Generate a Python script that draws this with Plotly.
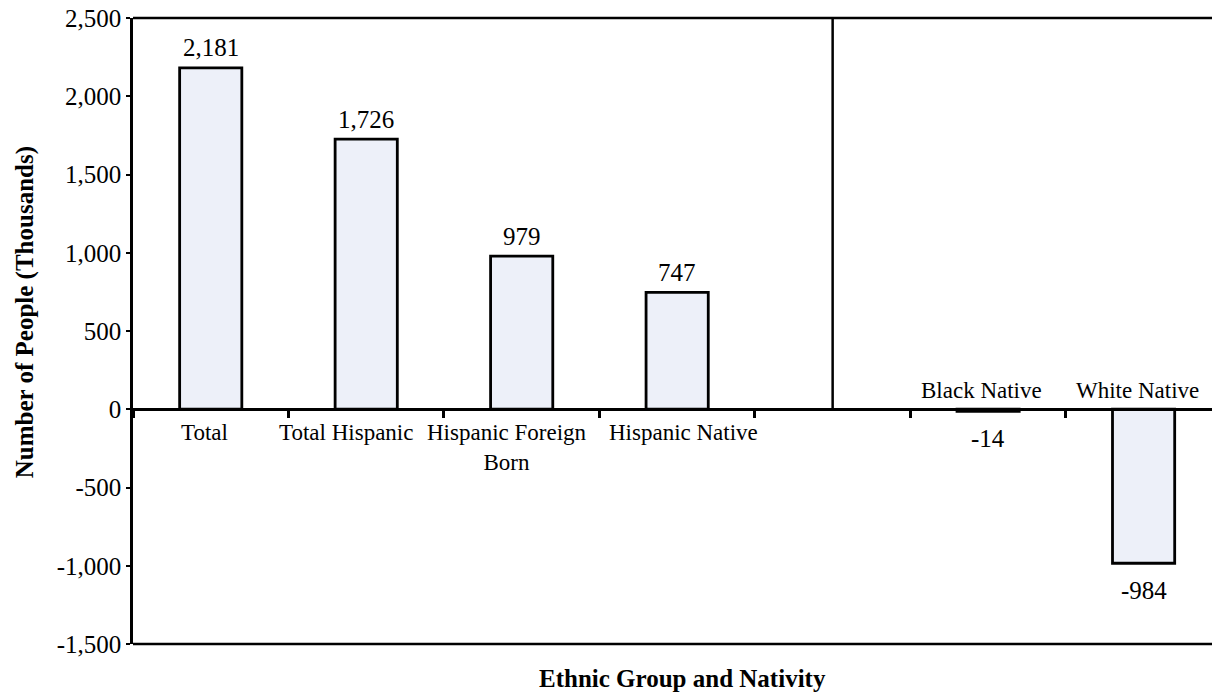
import plotly.graph_objects as go

categories = ["Total", "Total Hispanic", "Hispanic Foreign Born", "Hispanic Native", " ", "Black Native", "White Native"]
label_text = ["Total", "Total Hispanic", "Hispanic Foreign<br>Born", "Hispanic Native", "", "Black Native", "White Native"]
values = [2181, 1726, 979, 747, None, -14, -984]
y_ticks = [-1500, -1000, -500, 0, 500, 1000, 1500, 2000, 2500]

# horizontal nudges of the category labels (layout only)
label_nudge = [-6, -20, -15, 6, 0, -7, -6]

FONT = "Liberation Serif, Times New Roman, DejaVu Serif, serif"

fig = go.Figure()
fig.add_trace(go.Bar(
    x=categories, y=values,
    marker=dict(color="#EDF0F9", line=dict(color="black", width=2.8)),
    cliponaxis=False, width=0.4, showlegend=False, hoverinfo="x+y",
))

# value labels
for cat, v in zip(categories, values):
    if v is None:
        continue
    fig.add_annotation(
        x=cat, y=v, xref="x", yref="y", text=f"{v:,}", showarrow=False,
        yanchor="middle", yshift=20 if v >= 0 else -27,
        font=dict(family=FONT, size=25, color="black"),
    )

# category labels: below zero for positive bars, above zero for negative bars
for cat, lab, v, dx in zip(categories, label_text, values, label_nudge):
    if not lab:
        continue
    neg = v is not None and v < 0
    fig.add_annotation(
        x=cat, y=0, xref="x", yref="y", text=lab, showarrow=False,
        yanchor="bottom" if neg else "top", yshift=4 if neg else -9, xshift=dx,
        font=dict(family=FONT, size=23, color="black"),
    )

# separator line at the blank category, frame lines top/bottom
fig.add_shape(type="line", xref="x", yref="paper", x0=categories[4], x1=categories[4],
              y0=1500 / 4000, y1=1, line=dict(color="black", width=2.5))
fig.add_shape(type="line", xref="paper", yref="paper", x0=0, x1=1, y0=1, y1=1,
              line=dict(color="black", width=2.5))
fig.add_shape(type="line", xref="paper", yref="paper", x0=0, x1=1, y0=0, y1=0,
              line=dict(color="black", width=2.5))

fig.add_annotation(
    x=0.5, y=0, xref="paper", yref="paper", yanchor="top", yshift=-19, xshift=10,
    text="<b>Ethnic Group and Nativity</b>", showarrow=False,
    font=dict(family=FONT, size=25, color="black"),
)
fig.add_annotation(
    x=0, y=0.53, xref="paper", yref="paper", xanchor="center", yanchor="middle",
    xshift=-108, textangle=-90,
    text="<b>Number of People (Thousands)</b>", showarrow=False,
    font=dict(family=FONT, size=25, color="black"),
)

fig.update_layout(
    width=1212, height=692,
    margin=dict(l=133, r=0, t=18, b=48),
    paper_bgcolor="white", plot_bgcolor="white",
    font=dict(family=FONT, color="black"),
    xaxis=dict(
        type="category", range=[-0.5, 6.44],
        showline=True, linecolor="black", linewidth=2.5,
        anchor="free", position=1500 / 4000,
        ticks="outside", tickson="boundaries", ticklen=7, tickwidth=2.5, tickcolor="black",
        showticklabels=False, showgrid=False, zeroline=False,
    ),
    yaxis=dict(
        range=[-1500, 2500], tickvals=y_ticks, ticktext=[f"{t:,}" for t in y_ticks],
        showline=True, linecolor="black", linewidth=2.5,
        ticks="outside", ticklen=4, tickwidth=2, tickcolor="black",
        tickfont=dict(family=FONT, size=25, color="black"),
        showgrid=False, zeroline=False,
    ),
)

fig.write_html("out.html")
